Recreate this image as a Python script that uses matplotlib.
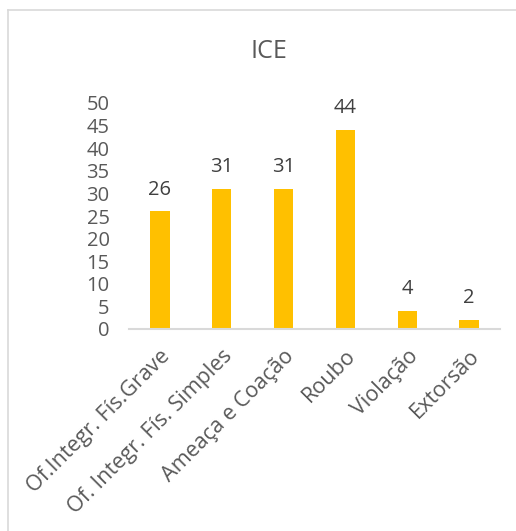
import matplotlib
matplotlib.use("Agg")
import matplotlib.pyplot as plt
from matplotlib.lines import Line2D

categories = ["Of.Integr. Fís.Grave", "Of. Integr. Fís. Simples", "Ameaça e Coação",
              "Roubo", "Violação", "Extorsão"]
values = [26, 31, 31, 44, 4, 2]
yticks = [0, 5, 10, 15, 20, 25, 30, 35, 40, 45, 50]

plt.rcParams['font.family'] = ['Open Sans', 'DejaVu Sans']
txt = '#595959'

fig = plt.figure(figsize=(5.16, 5.31), dpi=100)
W, H = 516, 531
# plot area in pixels: x 129..500, y 103..329
ax = fig.add_axes([129 / W, 1 - 329 / H, 371 / W, 226 / H])

x = range(len(categories))
bars = ax.bar(x, values, width=0.31, color='#FFC000')
for b, v in zip(bars, values):
    ax.annotate(str(v), (b.get_x() + b.get_width() / 2, v), xytext=(0, 8.5),
                textcoords='offset points', ha='center', va='bottom',
                fontsize=14.5, color='#404040')

ax.set_xlim(-0.5, len(categories) - 0.5)
ax.set_ylim(0, 50)
ax.set_yticks(yticks)
ax.set_yticklabels([str(t) for t in yticks], fontsize=14.5, color=txt)
ax.set_xticks(list(x))
ax.set_xticklabels(categories, rotation=45, ha='right', rotation_mode='anchor',
                   fontsize=15.5, color=txt)
ax.tick_params(axis='both', length=0)
ax.tick_params(axis='y', pad=14)
ax.tick_params(axis='x', pad=12)
for s in ['top', 'right', 'left']:
    ax.spines[s].set_visible(False)
ax.spines['bottom'].set_color('#D9D9D9')
ax.spines['bottom'].set_linewidth(1.5)

fig.text(269 / W, 1 - 52 / H, "ICE", ha='center', va='center', fontsize=18, color=txt)

# chart border (only top and left visible in the crop)
fig.add_artist(Line2D([8 / W, 8 / W], [0, 1 - 9.5 / H], transform=fig.transFigure,
                      color='#D9D9D9', lw=1.2))
fig.add_artist(Line2D([8 / W, 1], [1 - 9.5 / H, 1 - 9.5 / H], transform=fig.transFigure,
                      color='#D9D9D9', lw=1.2))

fig.savefig("out.png", dpi=100, facecolor='white')
